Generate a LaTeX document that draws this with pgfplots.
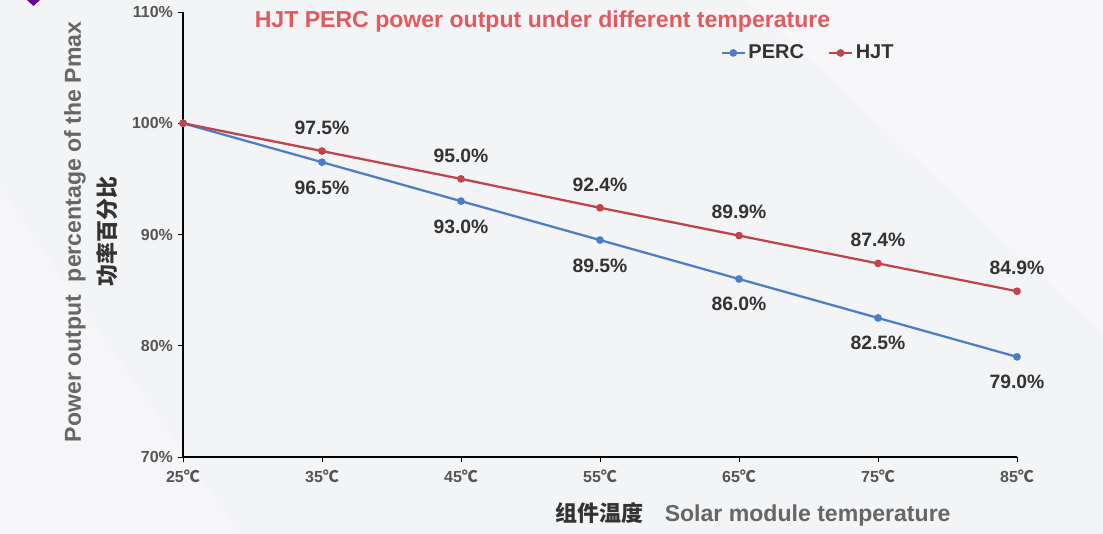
\documentclass[border=0pt]{standalone}
\usepackage{pgfplots}
\pgfplotsset{compat=1.18}
\usepackage{fontspec}
\setmainfont{Liberation Sans}
\newfontfamily\cjk{Noto Sans CJK SC}
\definecolor{perc}{HTML}{4A7EC6}
\definecolor{hjt}{HTML}{C1444A}
\definecolor{ttl}{HTML}{E05A5E}
\definecolor{bg}{HTML}{F3F4F6}
\definecolor{lbl}{HTML}{333333}
\definecolor{tck}{HTML}{555555}
\definecolor{ylab}{HTML}{666666}
\begin{document}
\begin{tikzpicture}
% page 1103 x 534 px, 1 px = 0.75pt
\fill[bg] (0,0) rectangle (827.25pt,400.5pt);
\fill[white,opacity=0.35] (560pt,400.5pt) -- (827.25pt,400.5pt) -- (827.25pt,150pt) -- cycle;
\fill[white,opacity=0.25] (0pt,0pt) -- (0pt,260pt) -- (180pt,0pt) -- cycle;
\fill[violet!80!blue] (20.25pt,400.5pt) -- (25.1pt,396pt) -- (30pt,400.5pt) -- cycle;

\begin{axis}[
  at={(137.25pt,57.75pt)}, anchor=south west,
  scale only axis, width=625.5pt, height=333.75pt,
  xmin=25, xmax=85, ymin=70, ymax=110,
  clip=false,
  axis lines=left,
  axis line style={-, black, line width=0.9pt},
  tick style={black, line width=0.7pt},
  major tick length=4pt, tick align=outside,
  xtick={25,35,...,85},
  ytick={70,80,...,110},
  /pgf/number format/assume math mode=true,
  xticklabel={\pgfmathprintnumber{\tick}{\cjk ℃}},
  yticklabel={\pgfmathprintnumber{\tick}\%},
  tick label style={font=\fontsize{12}{14}\selectfont\bfseries, text=tck},
  x tick label style={yshift=-2pt},
  legend columns=2,
  legend style={at={(0.75,0.908)}, anchor=center, draw=none, fill=none,
    font=\fontsize{15}{17}\selectfont\bfseries, text=lbl,
    /tikz/every even column/.append style={column sep=16pt}},
  legend image post style={line width=1.7pt},
]
\addplot[perc, line width=1.7pt, mark=*, mark size=2pt,
  nodes near coords, point meta=explicit symbolic,
  every node near coord/.append style={font=\fontsize{14.5}{16}\selectfont\bfseries,
    text=lbl, anchor=center, yshift=-19pt}]
  table[meta=lab] {
x y lab
25 100 {}
35 96.5 96.5\%
45 93.0 93.0\%
55 89.5 89.5\%
65 86.0 86.0\%
75 82.5 82.5\%
85 79.0 79.0\%
};
\addlegendentry{PERC}
\addplot[hjt, line width=1.7pt, mark=*, mark size=2pt,
  nodes near coords, point meta=explicit symbolic,
  every node near coord/.append style={font=\fontsize{14.5}{16}\selectfont\bfseries,
    text=lbl, anchor=center, yshift=17.5pt}]
  table[meta=lab] {
x y lab
25 100 {}
35 97.5 97.5\%
45 95.0 95.0\%
55 92.4 92.4\%
65 89.9 89.9\%
75 87.4 87.4\%
85 84.9 84.9\%
};
\addlegendentry{HJT}
\end{axis}

\node[font=\fontsize{17.3}{20}\selectfont\bfseries, text=ttl] at (406.9pt,384pt)
  {HJT PERC power output under different temperature};
\node[rotate=90, font=\fontsize{17.3}{20}\selectfont\bfseries, text=ylab] at (56.25pt,226.5pt)
  {Power output\ \ percentage of the Pmax};
\node[rotate=90, font=\cjk\fontsize{16.5}{19}\selectfont\bfseries, text=lbl] at (80.25pt,226.5pt)
  {功率百分比};
\node[anchor=center] at (564.75pt,15pt)
  {{\cjk\fontsize{16.5}{19}\selectfont\bfseries\color{lbl}组件温度}\hspace{16pt}{\fontsize{17.3}{20}\selectfont\bfseries\color{ylab}Solar module temperature}};
\end{tikzpicture}
\end{document}
